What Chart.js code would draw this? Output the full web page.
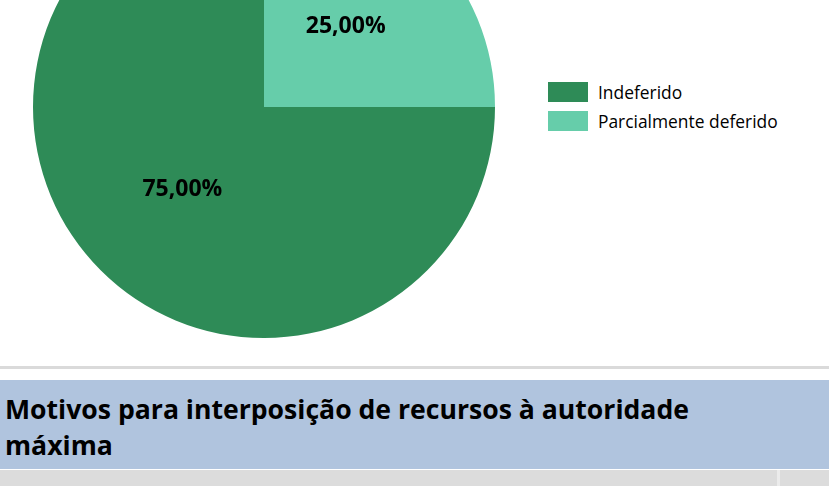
<!DOCTYPE html>
<html>
<head>
<meta charset="utf-8">
<script src="https://cdn.jsdelivr.net/npm/chart.js@4"></script>
<style>
  html, body { margin: 0; padding: 0; background: #fff; }
  body { width: 829px; height: 486px; position: relative; overflow: hidden; font-family: "Open Sans", sans-serif; }
  #pieBox { position: absolute; left: 29px; top: -128px; width: 470px; height: 470px; }
  .legend { position: absolute; left: 548px; top: 77px; }
  .legend div { display: flex; align-items: center; height: 29px; font-size: 17.4px; color: #000; }
  .legend span.sw { width: 40px; height: 20px; margin-right: 10px; }
  .rule { position: absolute; left: 0; top: 366px; width: 829px; height: 3px; background: #dadada; }
  .band { position: absolute; left: 0; top: 380px; width: 829px; height: 89px; background: #b0c4de; }
  .band h2 { margin: 0; padding: 11px 0 0 5px; font-size: 26.6px; line-height: 36px; font-weight: bold; color: #000; }
  .row { position: absolute; left: 0; top: 470px; width: 829px; height: 16px; background: #dcdcdc; }
  .row .sep { position: absolute; left: 777px; top: 0; width: 3px; height: 16px; background: #ebebeb; }
</style>
</head>
<body>
<div id="pieBox"><canvas id="pie"></canvas></div>
<div class="legend" id="legend"></div>
<div class="rule"></div>
<div class="band"><h2>Motivos para interposição de recursos à autoridade<br>máxima</h2></div>
<div class="row"><div class="sep"></div></div>
<script>
const categories = ["Indeferido", "Parcialmente deferido"];
const shares = [75, 25];
const colors = ["#2e8b57", "#66cdaa"];

const sliceLabels = {
  id: "sliceLabels",
  afterDatasetsDraw(chart) {
    const ctx = chart.ctx;
    const meta = chart.getDatasetMeta(0);
    ctx.save();
    ctx.font = "bold 23px 'Open Sans', sans-serif";
    ctx.fillStyle = "#000";
    ctx.textAlign = "center";
    ctx.textBaseline = "middle";
    meta.data.forEach((arc, i) => {
      const p = arc.tooltipPosition();
      ctx.fillText(shares[i].toFixed(2).replace(".", ",") + "%", p.x, p.y + 1);
    });
    ctx.restore();
  }
};

new Chart(document.getElementById("pie").getContext("2d"), {
  type: "pie",
  data: {
    labels: categories,
    datasets: [{
      data: shares,
      backgroundColor: colors,
      borderWidth: 0
    }]
  },
  options: {
    responsive: true,
    maintainAspectRatio: false,
    animation: false,
    rotation: 90,
    layout: { padding: 4 },
    plugins: {
      legend: { display: false },
      tooltip: { enabled: false }
    }
  },
  plugins: [sliceLabels]
});

const legend = document.getElementById("legend");
categories.forEach((c, i) => {
  const row = document.createElement("div");
  row.innerHTML = '<span class="sw" style="background:' + colors[i] + '"></span>' + c;
  legend.appendChild(row);
});
</script>
</body>
</html>
